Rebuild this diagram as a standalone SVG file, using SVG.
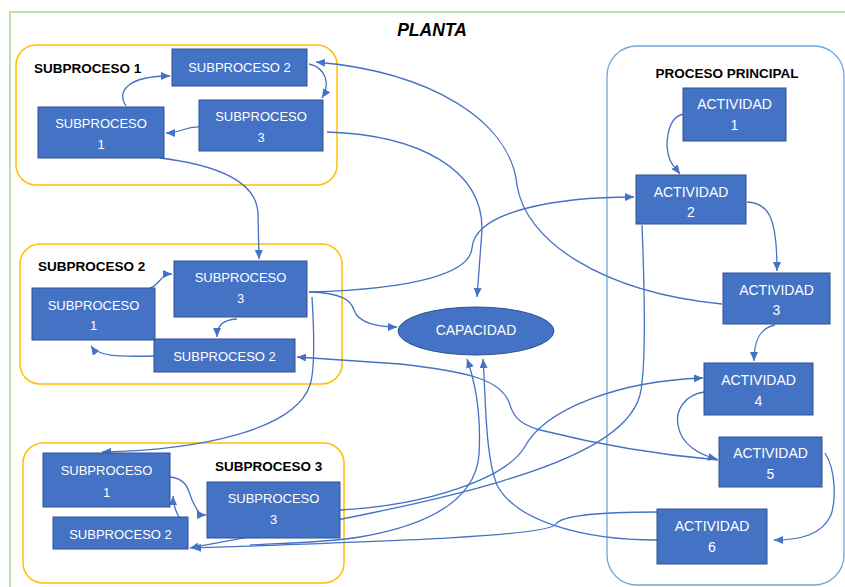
<svg xmlns="http://www.w3.org/2000/svg" width="845" height="587" viewBox="0 0 845 587">
  <style>
    .node rect { fill: #4472C4; stroke: #2F528F; stroke-width: 1; }
    .node ellipse { fill: #4472C4; stroke: #2F528F; stroke-width: 1; }
    .nt { font-family: "Liberation Sans", Arial, sans-serif; font-size: 13px; fill: #FFFFFF; text-anchor: middle; }
    .at { font-family: "Liberation Sans", Arial, sans-serif; font-size: 14px; fill: #FFFFFF; text-anchor: middle; }
    .lbl { font-family: "Liberation Sans", Arial, sans-serif; font-size: 13.5px; font-weight: bold; fill: #000000; }
    .title { font-family: "Liberation Sans", Arial, sans-serif; font-size: 17.5px; font-weight: bold; font-style: italic; fill: #000000; text-anchor: middle; }
    .sub { fill: none; stroke: #FFC000; stroke-width: 1.5; }
    .main { fill: none; stroke: #6FA8DC; stroke-width: 1.3; }
    .conn path { fill: none; stroke: #4472C4; stroke-width: 1.3; marker-end: url(#arrow); }
  </style>
  <defs>
    <marker id="arrow" markerUnits="userSpaceOnUse" markerWidth="10" markerHeight="8" refX="9" refY="4" orient="auto">
      <path d="M0,0 L9,4 L0,8 z" fill="#4472C4"/>
    </marker>
  </defs>

  <rect width="845" height="587" fill="#FFFFFF"/>

  <!-- plant frame -->
  <path d="M10,587 L10,12 L845,12" fill="none" stroke="#A9D18E" stroke-width="1.5"/>
  <text class="title" x="432" y="36">PLANTA</text>

  <!-- containers -->
  <g id="subproceso1">
    <rect class="sub" x="16" y="45" width="321" height="140" rx="20"/>
    <text class="lbl" x="34" y="73">SUBPROCESO 1</text>
  </g>
  <g id="subproceso2">
    <rect class="sub" x="20" y="244" width="322" height="140" rx="20"/>
    <text class="lbl" x="38" y="271">SUBPROCESO 2</text>
  </g>
  <g id="subproceso3">
    <rect class="sub" x="23" y="443" width="321" height="140" rx="20"/>
    <text class="lbl" x="215" y="471">SUBPROCESO 3</text>
  </g>
  <g id="proceso-principal">
    <rect class="main" x="607" y="46" width="237" height="539" rx="30"/>
    <text class="lbl" x="727" y="78" text-anchor="middle">PROCESO PRINCIPAL</text>
  </g>

  <!-- connectors -->
  <g id="connectors" class="conn">
    <!-- subproceso 1 -->
    <path d="M126,106 C117,92 126,76 170,76"/>
    <path d="M309,64 C327,68 330,85 322,98"/>
    <path d="M200,127 C185,126 182,133 166,133"/>
    <path d="M160,158 C225,166 258,185 258,215 L259,259"/>
    <path d="M327,132 C420,135 483,170 482,230 L477,297"/>
    <path d="M722,304 C600,292 525,240 517,185 C510,120 430,72 316,62"/>
    <!-- subproceso 2 -->
    <path d="M150,288 C160,285 160,274 172,274"/>
    <path d="M237,319 C222,320 217,326 217,337"/>
    <path d="M154,356 C115,357 98,356 91,346"/>
    <path d="M309,292 C420,289 470,272 472,248 C475,210 560,197 634,197"/>
    <path d="M309,292 C342,293 351,300 354,310 C358,323 378,327 397,327"/>
    <path d="M312,297 C314,330 315,370 310,385 C295,430 200,450 102,452"/>
    <!-- subproceso 3 -->
    <path d="M170,477 C190,479 188,494 194,504 C198,512 200,515 206,515"/>
    <path d="M179,517 C175,510 173,504 173,496"/>
    <path d="M340,510 C430,505 505,478 524,448 C545,408 620,381 703,378"/>
    <path d="M642,225 C645,300 646,370 640,395 C620,470 420,505 190,548"/>
    <path d="M657,512 C600,512 562,515 556,524 C549,536 400,541 192,548"/>
    <path d="M250,545 C290,543 330,542 360,537 C430,525 475,500 479,455 C481,420 478,390 467,359"/>
    <path d="M657,540 C580,540 515,520 497,485 C485,455 486,400 483,359"/>
    <path d="M718,460 C660,455 600,445 540,430 C515,423 512,412 509,402 C500,380 470,372 400,364 L297,357"/>
    <!-- proceso principal -->
    <path d="M704,392 C685,395 675,410 678,425 C681,445 700,455 717,459"/>
    <path d="M683,114 C667,118 664,145 670,160 C673,167 677,170 680,174"/>
    <path d="M747,202 C770,203 777,220 777,271"/>
    <path d="M775,325 C760,328 754,340 754,361"/>
    <path d="M825,453 C836,470 836,500 831,515 C822,535 800,540 774,540"/>
  </g>

  <!-- nodes -->
  <g id="sp1-subproceso2" class="node">
    <rect x="172" y="49" width="135" height="37"/>
    <text class="nt" x="239.5" y="72">SUBPROCESO 2</text>
  </g>
  <g id="sp1-subproceso1" class="node">
    <rect x="38" y="107" width="126" height="51"/>
    <text class="nt" x="101" y="128">SUBPROCESO</text>
    <text class="nt" x="101" y="149">1</text>
  </g>
  <g id="sp1-subproceso3" class="node">
    <rect x="199" y="100" width="124" height="51"/>
    <text class="nt" x="261" y="121">SUBPROCESO</text>
    <text class="nt" x="261" y="142">3</text>
  </g>

  <g id="sp2-subproceso3" class="node">
    <rect x="174" y="261" width="133" height="56"/>
    <text class="nt" x="240.5" y="282">SUBPROCESO</text>
    <text class="nt" x="240.5" y="303">3</text>
  </g>
  <g id="sp2-subproceso1" class="node">
    <rect x="32" y="288" width="123" height="52"/>
    <text class="nt" x="93.5" y="310">SUBPROCESO</text>
    <text class="nt" x="93.5" y="330">1</text>
  </g>
  <g id="sp2-subproceso2" class="node">
    <rect x="154" y="339" width="141" height="33"/>
    <text class="nt" x="224.5" y="361">SUBPROCESO 2</text>
  </g>

  <g id="sp3-subproceso1" class="node">
    <rect x="43" y="453" width="127" height="54"/>
    <text class="nt" x="106.5" y="475">SUBPROCESO</text>
    <text class="nt" x="106.5" y="497">1</text>
  </g>
  <g id="sp3-subproceso3" class="node">
    <rect x="207" y="482" width="133" height="56"/>
    <text class="nt" x="273.5" y="503">SUBPROCESO</text>
    <text class="nt" x="273.5" y="524">3</text>
  </g>
  <g id="sp3-subproceso2" class="node">
    <rect x="53" y="517" width="135" height="32"/>
    <text class="nt" x="120.5" y="539">SUBPROCESO 2</text>
  </g>

  <g id="capacidad" class="node">
    <ellipse cx="476" cy="331" rx="78" ry="24"/>
    <text class="at" x="476" y="335">CAPACIDAD</text>
  </g>

  <g id="actividad1" class="node">
    <rect x="683" y="88" width="103" height="53"/>
    <text class="at" x="734.5" y="109">ACTIVIDAD</text>
    <text class="at" x="734.5" y="130">1</text>
  </g>
  <g id="actividad2" class="node">
    <rect x="636" y="175" width="110" height="49"/>
    <text class="at" x="691" y="197">ACTIVIDAD</text>
    <text class="at" x="691" y="217">2</text>
  </g>
  <g id="actividad3" class="node">
    <rect x="723" y="273" width="107" height="51"/>
    <text class="at" x="776.5" y="295">ACTIVIDAD</text>
    <text class="at" x="776.5" y="315">3</text>
  </g>
  <g id="actividad4" class="node">
    <rect x="704" y="363" width="109" height="52"/>
    <text class="at" x="758.5" y="385">ACTIVIDAD</text>
    <text class="at" x="758.5" y="406">4</text>
  </g>
  <g id="actividad5" class="node">
    <rect x="719" y="437" width="103" height="50"/>
    <text class="at" x="770.5" y="458">ACTIVIDAD</text>
    <text class="at" x="770.5" y="479">5</text>
  </g>
  <g id="actividad6" class="node">
    <rect x="657" y="509" width="110" height="55"/>
    <text class="at" x="712" y="531">ACTIVIDAD</text>
    <text class="at" x="712" y="552">6</text>
  </g>
</svg>
